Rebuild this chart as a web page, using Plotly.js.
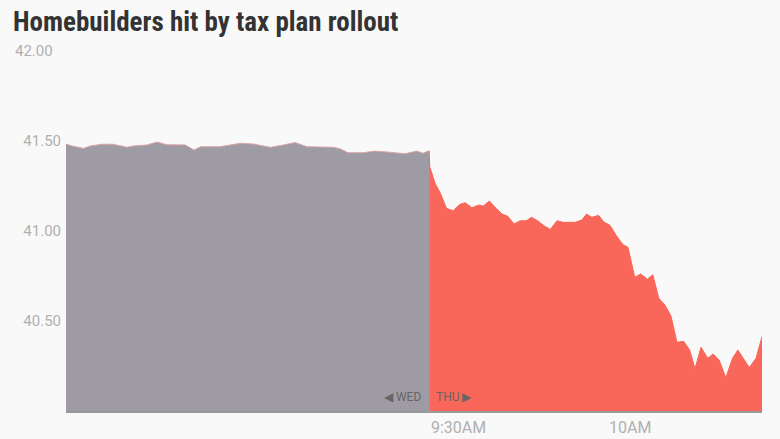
<!DOCTYPE html>
<html>
<head>
<meta charset="utf-8">
<script src="https://cdn.plot.ly/plotly-3.0.1.min.js"></script>
<style>
  html, body { margin: 0; padding: 0; background: #f9f9f9; }
  #chart { width: 780px; height: 439px; }
</style>
</head>
<body>
<div id="chart"></div>
<script>
// minutes relative to Thursday 9:30AM (Wednesday session squeezed to the left)
const wedMinutes = [-54.2, -53.3, -51.6, -50.6, -48.8, -47.2, -45.1, -44.2, -42.1, -40.6,
  -39.1, -36.4, -35.1, -34.1, -31.2, -28.2, -26.2, -23.7, -21.7, -20.0,
  -18.2, -16.3, -14.3, -13.3, -12.1, -9.8, -8.1, -6.3, -3.6, -1.8, -0.9, 0];
const wedValues = [41.483, 41.472, 41.459, 41.472, 41.482, 41.482, 41.465, 41.472, 41.478, 41.494,
  41.479, 41.478, 41.450, 41.468, 41.468, 41.487, 41.483, 41.465, 41.478, 41.491,
  41.468, 41.468, 41.465, 41.457, 41.435, 41.435, 41.444, 41.439, 41.429, 41.444, 41.432, 41.446];

const thuMinutes = [0, 0.1, 0.9, 1.7, 2.6, 3.6, 4.6, 5.4, 6.4, 7.4, 8.1, 9.0, 10.0, 10.9, 11.7,
  12.7, 13.6, 14.5, 15.3, 16.2, 17.2, 18.1, 19.1, 20.0, 21.8, 22.8, 23.5, 24.3, 25.3,
  26.1, 27.0, 28.0, 28.9, 29.7, 30.7, 31.6, 32.6, 33.4, 34.3, 35.2, 36.1, 37.0, 38.0,
  38.9, 39.7, 40.6, 41.6, 42.4, 43.3, 44.3, 45.3, 46.1, 46.9, 47.8, 48.8, 49.7];
const thuValues = [41.446, 41.357, 41.265, 41.209, 41.126, 41.113, 41.148, 41.157, 41.129, 41.144,
  41.139, 41.167, 41.126, 41.094, 41.083, 41.039, 41.057, 41.057, 41.076, 41.057, 41.028,
  41.009, 41.057, 41.048, 41.048, 41.061, 41.094, 41.076, 41.087, 41.050, 41.032, 40.972,
  40.926, 40.909, 40.743, 40.761, 40.732, 40.757, 40.626, 40.589, 40.529, 40.382, 40.387,
  40.339, 40.235, 40.354, 40.293, 40.317, 40.283, 40.185, 40.293, 40.339, 40.293, 40.241,
  40.293, 40.413];

const yTicks = [40.5, 41.0, 41.5];
const yTickText = ["40.50", "41.00", "41.50"];
const xLabels = [{ at: 0, text: "9:30AM", anchor: "left" }, { at: 30, text: "10AM", anchor: "center" }];

const grayFill = "#9f9ba5";
const redFill = "#f9675a";
const labelColor = "#b0b0b0";
const tickFont = { family: "Roboto, Arial, sans-serif", size: 15, color: labelColor };

const traces = [
  {
    type: "scatter",
    mode: "lines",
    x: wedMinutes,
    y: wedValues,
    fill: "tozeroy",
    fillcolor: grayFill,
    line: { color: "#d8a3a3", width: 1 },
    hoverinfo: "skip"
  },
  {
    type: "scatter",
    mode: "lines",
    x: thuMinutes,
    y: thuValues,
    fill: "tozeroy",
    fillcolor: redFill,
    line: { color: redFill, width: 1 },
    hoverinfo: "skip"
  }
];

const annotations = xLabels.map(l => ({
  x: l.at, y: 0, xref: "x", yref: "paper",
  text: l.text, showarrow: false,
  xanchor: l.anchor, yanchor: "top", yshift: -5,
  font: { family: "Roboto, Arial, sans-serif", size: 16, color: labelColor }
}));

annotations.push(
  {
    // top label sits further left than the others in the original
    x: (13 - 66) / 696, xref: "paper", y: 42.0, yref: "y",
    text: "42.00", showarrow: false, xanchor: "left", yanchor: "middle",
    font: tickFont
  },
  {
    x: 0, y: 40.08, xref: "x", yref: "y", text: "◀ WED", showarrow: false,
    xanchor: "right", yanchor: "middle", xshift: -6,
    font: { family: "Roboto, Arial, sans-serif", size: 12, color: "#666666" }
  },
  {
    x: 0, y: 40.08, xref: "x", yref: "y", text: "THU ▶", showarrow: false,
    xanchor: "left", yanchor: "middle", xshift: 5,
    font: { family: "Roboto, Arial, sans-serif", size: 12, color: "#666666" }
  }
);

const layout = {
  width: 780,
  height: 439,
  paper_bgcolor: "#f9f9f9",
  plot_bgcolor: "#f9f9f9",
  margin: { l: 66, r: 18, t: 51, b: 28 },
  showlegend: false,
  title: {
    text: "<b>Homebuilders hit by tax plan rollout</b>",
    x: 13 / 780, xanchor: "left", xref: "container",
    y: 1 - 22 / 439, yanchor: "middle", yref: "container",
    font: { family: "'Liberation Sans Narrow', 'Roboto Condensed', 'DejaVu Sans Condensed', Roboto, sans-serif", size: 27, color: "#333333" }
  },
  xaxis: {
    range: [-54.2, 49.7],
    showgrid: false,
    zeroline: false,
    showticklabels: false,
    showline: true,
    linecolor: "#999999",
    linewidth: 1.5,
    fixedrange: true
  },
  yaxis: {
    range: [40.0, 42.0],
    tickvals: yTicks,
    ticktext: yTickText,
    showgrid: false,
    zeroline: false,
    ticks: "",
    ticklabelstandoff: 4,
    tickfont: tickFont,
    fixedrange: true
  },
  annotations: annotations
};

Plotly.newPlot("chart", traces, layout, { displayModeBar: false, staticPlot: true });
</script>
</body>
</html>
